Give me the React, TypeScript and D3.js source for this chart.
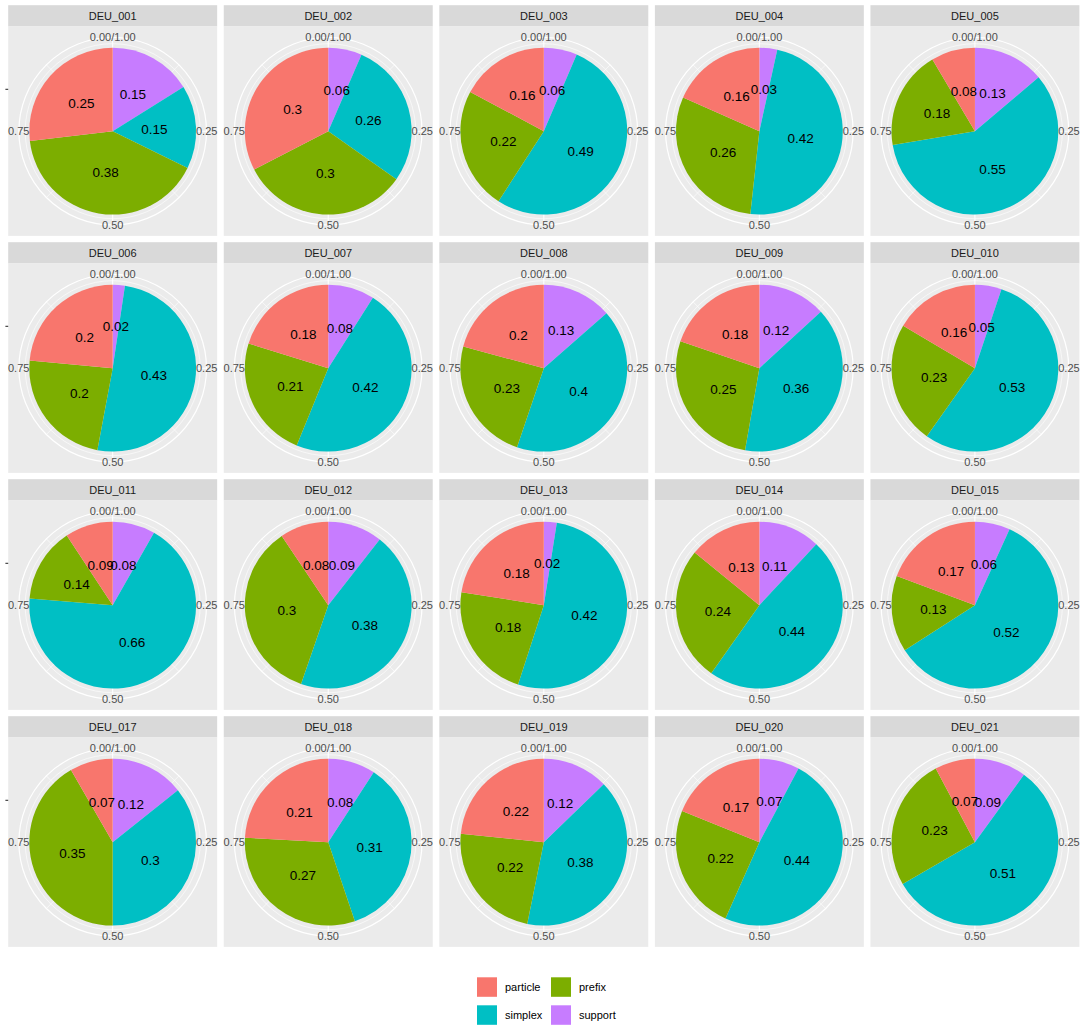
import React from "react";
import * as d3 from "d3";

const facets = [
  "DEU_001", "DEU_002", "DEU_003", "DEU_004", "DEU_005",
  "DEU_006", "DEU_007", "DEU_008", "DEU_009", "DEU_010",
  "DEU_011", "DEU_012", "DEU_013", "DEU_014", "DEU_015",
  "DEU_017", "DEU_018", "DEU_019", "DEU_020", "DEU_021",
];
const particle = [0.25, 0.3, 0.16, 0.16, 0.08, 0.2, 0.18, 0.2, 0.18, 0.16, 0.09, 0.08, 0.18, 0.13, 0.17, 0.07, 0.21, 0.22, 0.17, 0.07];
const prefix = [0.38, 0.3, 0.22, 0.26, 0.18, 0.2, 0.21, 0.23, 0.25, 0.23, 0.14, 0.3, 0.18, 0.24, 0.13, 0.35, 0.27, 0.22, 0.22, 0.23];
const simplex = [0.15, 0.26, 0.49, 0.42, 0.55, 0.43, 0.42, 0.4, 0.36, 0.53, 0.66, 0.38, 0.42, 0.44, 0.52, 0.3, 0.31, 0.38, 0.44, 0.51];
const support = [0.15, 0.06, 0.06, 0.03, 0.13, 0.02, 0.08, 0.13, 0.12, 0.05, 0.08, 0.09, 0.02, 0.11, 0.06, 0.12, 0.08, 0.12, 0.07, 0.09];

const categories = ["particle", "prefix", "simplex", "support"];
const colors = ["#F8766D", "#7CAE00", "#00BFC4", "#C77CFF"];
const thetaTickValues = [0, 0.25, 0.5, 0.75];
const thetaTickLabels = ["0.00/1.00", "0.25", "0.50", "0.75"];
const thetaMinor = [0.125, 0.375, 0.625, 0.875];

const FONT = "'Liberation Sans', Arial, Helvetica, sans-serif";

const W = 1084;
const H = 1030;
const NCOL = 5;
const left = 8.2;
const right = 1079.4;
const colGap = 6.6;
const panelW = (right - left - colGap * (NCOL - 1)) / NCOL;
const top0 = 5.2;
const stripH = 21.3;
const panelH = 209.4;
const rowGap = 6.3;

const pieR = 83.4;
const innerRingR = 87.5;
const outerRingR = 93.8;
const tickLabelR = 94;
const labelR = 41.8;

const theta = d3.scaleLinear().domain([0, 1]).range([0, 2 * Math.PI]);

type Slice = { key: string; value: number; color: string };

function Panel({ idx }: { idx: number }) {
  const col = idx % NCOL;
  const row = Math.floor(idx / NCOL);
  const x0 = left + col * (panelW + colGap);
  const y0 = top0 + row * (stripH + panelH + rowGap);
  const py = y0 + stripH;
  const cx = x0 + panelW / 2;
  const cy = py + panelH / 2;

  // clockwise from top: support, simplex, prefix, particle
  const slices: Slice[] = [
    { key: "support", value: support[idx], color: colors[3] },
    { key: "simplex", value: simplex[idx], color: colors[2] },
    { key: "prefix", value: prefix[idx], color: colors[1] },
    { key: "particle", value: particle[idx], color: colors[0] },
  ];
  const pie = d3.pie<Slice>().sort(null).value((d) => d.value);
  const arcs = pie(slices);
  const arc = d3.arc<d3.PieArcDatum<Slice>>().innerRadius(0).outerRadius(pieR);
  const labelArc = d3.arc<d3.PieArcDatum<Slice>>().innerRadius(labelR).outerRadius(labelR);

  const radial = (t: number, r: number) => [Math.sin(theta(t)) * r, -Math.cos(theta(t)) * r];

  return (
    <g>
      <rect x={x0} y={y0} width={panelW} height={stripH} fill="#D9D9D9" />
      <text x={cx} y={y0 + stripH / 2} dy="0.35em" textAnchor="middle" fontSize={11} fill="#1A1A1A" fontFamily={FONT}>
        {facets[idx]}
      </text>
      <rect x={x0} y={py} width={panelW} height={panelH} fill="#EBEBEB" />
      <g transform={`translate(${cx},${cy})`}>
        {thetaMinor.map((t) => {
          const [x, y] = radial(t, outerRingR);
          return <line key={"mi" + t} x1={0} y1={0} x2={x} y2={y} stroke="#FFFFFF" strokeWidth={0.6} />;
        })}
        {thetaTickValues.map((t) => {
          const [x, y] = radial(t, outerRingR);
          return <line key={"ma" + t} x1={0} y1={0} x2={x} y2={y} stroke="#FFFFFF" strokeWidth={1.1} />;
        })}
        <circle r={innerRingR} fill="none" stroke="#FFFFFF" strokeWidth={0.6} />
        <circle r={outerRingR} fill="none" stroke="#FFFFFF" strokeWidth={1.2} />
        {arcs.map((a) => (
          <path key={a.data.key} d={arc(a) as string} fill={a.data.color} />
        ))}
        {arcs.map((a) => {
          const [lx, ly] = labelArc.centroid(a);
          return (
            <text key={"l" + a.data.key} x={lx} y={ly} dy="0.35em" textAnchor="middle" fontSize={13.5} fill="#000000" fontFamily={FONT}>
              {String(a.data.value)}
            </text>
          );
        })}
        {thetaTickValues.map((t, i) => {
          const [x, y] = radial(t, tickLabelR);
          return (
            <text key={"tl" + t} x={x} y={y} dy="0.35em" textAnchor="middle" fontSize={11} fill="#4D4D4D" fontFamily={FONT}>
              {thetaTickLabels[i]}
            </text>
          );
        })}
      </g>
      {col === 0 && (
        <line x1={x0 - 2.8} x2={x0} y1={cy - 0.2 * panelH} y2={cy - 0.2 * panelH} stroke="#333333" strokeWidth={1.1} />
      )}
    </g>
  );
}

function Legend() {
  const keyW = 20;
  const keyH = 19.5;
  const colX = [477, 551];
  const rowY = [977.3, 1005.3];
  const textOff = 28;
  return (
    <g>
      {categories.map((c, i) => {
        const cc = i % 2;
        const rr = Math.floor(i / 2);
        return (
          <g key={c}>
            <rect x={colX[cc]} y={rowY[rr]} width={keyW} height={keyH} fill={colors[i]} />
            <text x={colX[cc] + textOff} y={rowY[rr] + keyH / 2} dy="0.35em" fontSize={11} fill="#000000" fontFamily={FONT}>
              {c}
            </text>
          </g>
        );
      })}
    </g>
  );
}

export default function App() {
  return (
    <svg width={W} height={H} style={{ position: "absolute", left: 0, top: 0, background: "#FFFFFF" }}>
      <rect x={0} y={0} width={W} height={H} fill="#FFFFFF" />
      {facets.map((_, i) => (
        <Panel key={facets[i]} idx={i} />
      ))}
      <Legend />
    </svg>
  );
}
